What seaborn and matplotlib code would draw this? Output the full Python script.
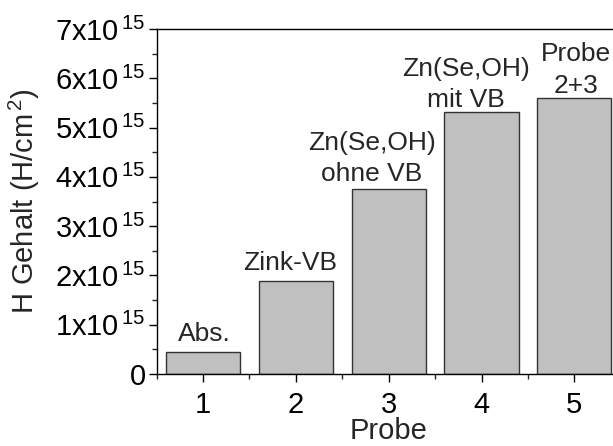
import matplotlib
matplotlib.use("Agg")
import matplotlib.pyplot as plt
import matplotlib.ticker as mticker
import pandas as pd
import seaborn as sns

# data
probe = [1, 2, 3, 4, 5]
h_gehalt = [0.45e15, 1.89e15, 3.75e15, 5.31e15, 5.61e15]
bar_labels = ["Abs.", "Zink-VB", "Zn(Se,OH)\nohne VB", "Zn(Se,OH)\nmit VB", "Probe\n2+3"]

sns.set_style("ticks")
plt.rcParams["font.family"] = ["Liberation Sans", "DejaVu Sans"]
plt.rcParams["mathtext.fontset"] = "custom"
plt.rcParams["mathtext.rm"] = "Liberation Sans"
plt.rcParams["mathtext.it"] = "Liberation Sans"
plt.rcParams["mathtext.default"] = "regular"

df = pd.DataFrame({"Probe": probe, "H": h_gehalt})

fig = plt.figure(figsize=(6.13, 4.46), dpi=100)
ax = fig.add_axes([0.2556, 0.1614, 0.757, 0.7735])

sns.barplot(data=df, x="Probe", y="H", native_scale=True, width=0.8,
            color="#c0c0c0", saturation=1, edgecolor="#333333", linewidth=1.0, ax=ax)

ax.set_xlim(0.5, 5.5)
ax.set_ylim(0, 7e15)
ax.set_xticks(probe)
ax.set_xticklabels([str(p) for p in probe])
ax.xaxis.set_minor_locator(mticker.MultipleLocator(0.5))
ax.yaxis.set_major_locator(mticker.MultipleLocator(1e15))
ax.yaxis.set_minor_locator(mticker.MultipleLocator(0.5e15))


def fmt(v, pos):
    n = int(round(v / 1e15))
    if n == 0:
        return "0"
    return r"%dx10$^{\,15}$" % n


ax.yaxis.set_major_formatter(mticker.FuncFormatter(fmt))

ax.tick_params(axis="both", which="major", direction="out", length=6, width=1,
               labelsize=21, colors="black")
ax.tick_params(axis="y", which="major", pad=2)
ax.tick_params(axis="x", which="major", pad=6)
ax.tick_params(axis="both", which="minor", direction="out", length=3.5, width=1)
for s in ax.spines.values():
    s.set_linewidth(1)
    s.set_color("black")

ax.set_xlabel("Probe", fontsize=21, labelpad=-1)
ax.set_ylabel(r"H Gehalt (H/cm$^{\,2}$)", fontsize=21, labelpad=10)

# label offsets in points (dx, dy)
offsets = [(1, 4), (-4, 4.5), (-12, 2), (-11, 0), (1, 0)]
for p, h, lab, (dx, dy) in zip(probe, h_gehalt, bar_labels, offsets):
    ax.annotate(lab, (p, h), xytext=(dx, dy), textcoords="offset points",
                ha="center", va="bottom", fontsize=19, linespacing=1.4)

fig.savefig("out.png", dpi=100)
